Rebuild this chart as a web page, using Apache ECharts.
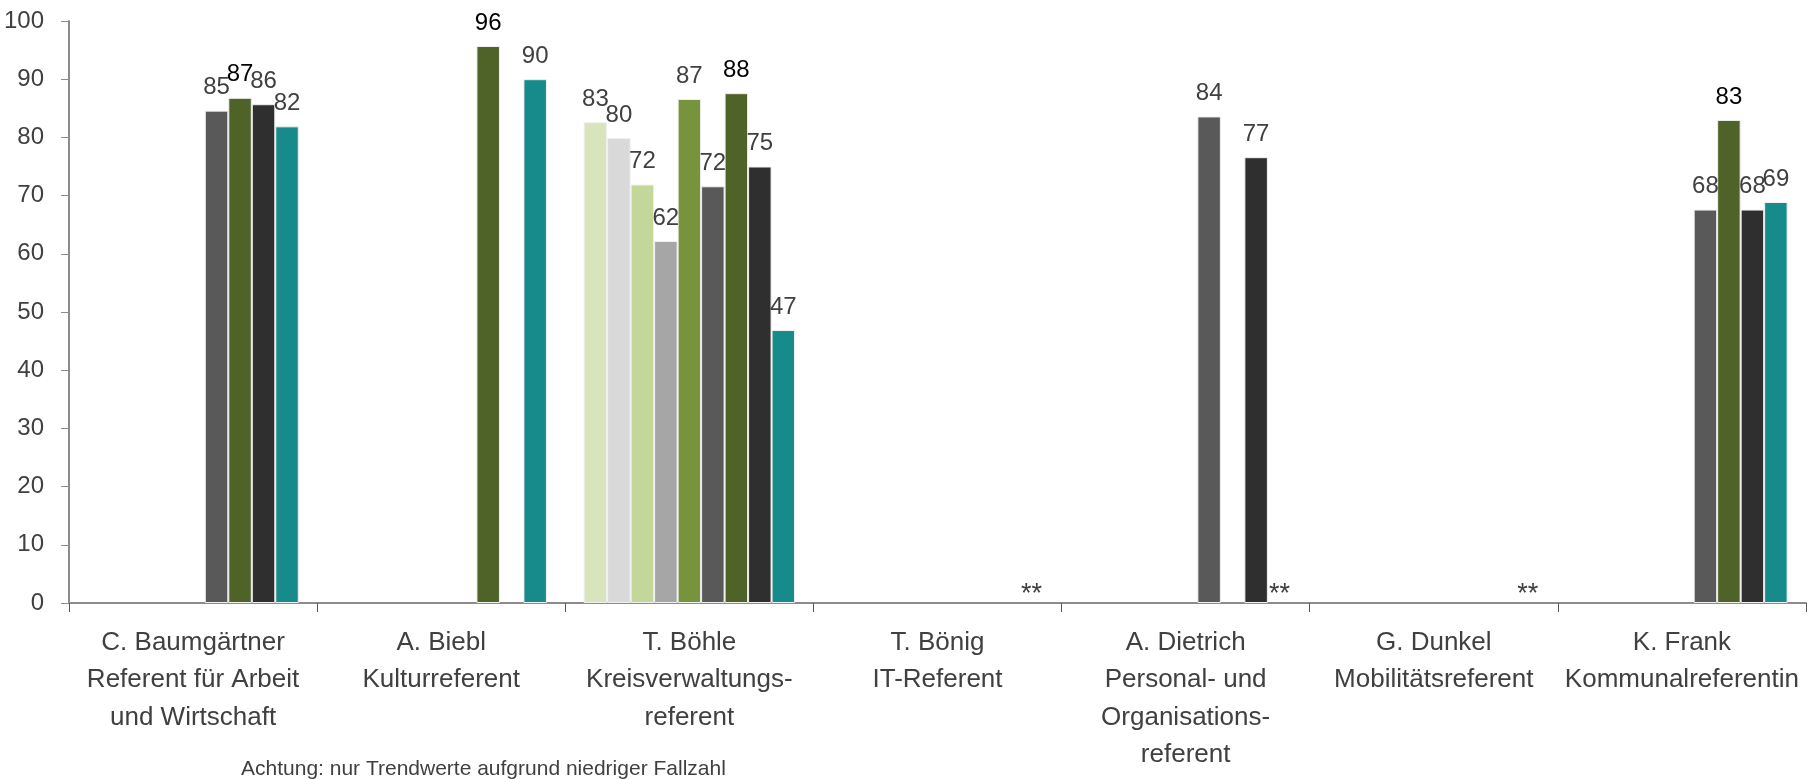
<!DOCTYPE html>
<html>
<head>
<meta charset="utf-8">
<script src="https://cdn.jsdelivr.net/npm/echarts@6/dist/echarts.min.js"></script>
<style>
  html, body { margin: 0; padding: 0; background: #fff; }
  #chart { width: 1817px; height: 779px; }
</style>
</head>
<body>
<div id="chart"></div>
<script>
// Kategorien (Referentinnen / Referenten)
const categories = [
  'C. Baumgärtner\nReferent für Arbeit\nund Wirtschaft',
  'A. Biebl\nKulturreferent',
  'T. Böhle\nKreisverwaltungs-\nreferent',
  'T. Bönig\nIT-Referent',
  'A. Dietrich\nPersonal- und\nOrganisations-\nreferent',
  'G. Dunkel\nMobilitätsreferent',
  'K. Frank\nKommunalreferentin'
];

// Werte je Reihe (null = kein Wert)
const reihe1 = [null, null, 82.6, null, null, null, null];
const reihe2 = [null, null, 79.9, null, null, null, null];
const reihe3 = [null, null, 71.9, null, null, null, null];
const reihe4 = [null, null, 62.2, null, null, null, null];
const reihe5 = [null, null, 86.6, null, null, null, null];
const reihe6 = [84.6, null, 71.6, null, 83.6, null, 67.6];
const reihe7 = [86.8, 95.7, 87.6, null, null, null, 83.0];
const reihe8 = [85.7, null, 75.0, null, 76.6, null, 67.6];
const reihe9 = [81.9, 90.0, 46.9, 0, 0, 0, 68.9];
// Hinweis bei zu niedriger Fallzahl
const reihe9Hinweis = ['', '', '', '**', '**', '**', ''];

const colors = ['#d8e4bc', '#d9d9d9', '#c4d79b', '#a6a6a6', '#77933c', '#595959', '#4f6228', '#2f2f2f', '#178a8b'];
const allData = [reihe1, reihe2, reihe3, reihe4, reihe5, reihe6, reihe7, reihe8, reihe9];

const font = "'Liberation Sans', Arial, sans-serif";

const chart = echarts.init(document.getElementById('chart'), null, { renderer: 'canvas' });

const series = allData.map((arr, idx) => {
  const isLast = idx === allData.length - 1;
  const data = isLast
    ? arr.map((v, i) => reihe9Hinweis[i]
        ? { value: v, itemStyle: { borderWidth: 0 }, label: { distance: -5, fontSize: 27 } }
        : v)
    : arr;
  return {
    name: 'Reihe ' + (idx + 1),
    type: 'bar',
    data: data,
    barGap: '0%',
    barCategoryGap: '14.8%',
    itemStyle: { color: colors[idx], borderColor: '#f0f0f0', borderWidth: 1 },
    label: {
      show: true,
      position: 'top',
      distance: 11,
      fontFamily: font,
      fontSize: 24,
      color: idx === 6 ? '#000000' : '#404040',
      formatter: p => {
        if (isLast && reihe9Hinweis[p.dataIndex]) return reihe9Hinweis[p.dataIndex];
        return Math.round(p.value);
      }
    }
  };
});

chart.setOption({
  animation: false,
  grid: { left: 69, right: 11, top: 21, bottom: 176 },
  xAxis: {
    type: 'category',
    data: categories,
    axisLine: { lineStyle: { color: '#8c8c8c', width: 2 } },
    axisTick: { show: true, length: 9, lineStyle: { color: '#595959', width: 1 } },
    axisLabel: {
      interval: 0,
      margin: 21,
      fontFamily: font,
      fontSize: 26,
      lineHeight: 37.5,
      color: '#404040'
    }
  },
  yAxis: {
    type: 'value',
    min: 0,
    max: 100,
    interval: 10,
    splitLine: { show: false },
    axisLine: { show: true, lineStyle: { color: '#8c8c8c', width: 2 } },
    axisTick: { show: true, length: 8, lineStyle: { color: '#8c8c8c', width: 1 } },
    axisLabel: {
      margin: 25,
      fontFamily: font,
      fontSize: 24,
      color: '#404040'
    }
  },
  graphic: [{
    type: 'text',
    left: 241,
    top: 759,
    style: {
      text: 'Achtung: nur Trendwerte aufgrund niedriger Fallzahl',
      fontFamily: font,
      fontSize: 21,
      fill: '#404040'
    }
  }],
  series: series
});
</script>
</body>
</html>
